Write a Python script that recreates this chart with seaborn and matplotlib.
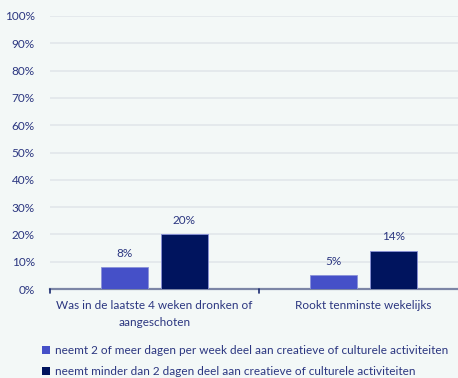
import matplotlib
matplotlib.use("Agg")
import matplotlib.pyplot as plt
from matplotlib.patches import Patch
import seaborn as sns
import pandas as pd

categories = ["Was in de laatste 4 weken dronken of\naangeschoten",
              "Rookt tenminste wekelijks"]
groups = ["neemt 2 of meer dagen per week deel aan creatieve of culturele activiteiten",
          "neemt minder dan 2 dagen deel aan creatieve of culturele activiteiten"]
values_often = [8, 5]
values_rarely = [20, 14]
y_ticks = [0, 10, 20, 30, 40, 50, 60, 70, 80, 90, 100]

bg = "#f3f8f7"
text_color = "#2b3680"
palette = ["#4550c8", "#00145e"]

df = pd.DataFrame({
    "categorie": categories * 2,
    "groep": [groups[0]] * 2 + [groups[1]] * 2,
    "waarde": values_often + values_rarely,
})

sns.set_theme(style="white")
plt.rcParams["font.family"] = ["Lato", "DejaVu Sans"]

fig = plt.figure(figsize=(4.58, 3.78), dpi=100, facecolor=bg)
ax = fig.add_axes([50 / 458, 1 - 289 / 378, 418 / 458, 273 / 378])
ax.set_facecolor(bg)

sns.barplot(data=df, x="categorie", y="waarde", hue="groep", hue_order=groups,
            palette=palette, width=0.57, gap=0.21, ax=ax, legend=False,
            edgecolor="#8a92d8", linewidth=0.6, saturation=1, zorder=3)

for container in ax.containers:
    ax.bar_label(container, labels=[f"{v:.0f}%" for v in container.datavalues],
                 padding=6, fontsize=8.5, color=text_color)

ax.set_ylim(0, 100)
ax.set_xlim(-0.5, 1.5)
ax.set_yticks(y_ticks)
ax.set_yticklabels([f"{t}%" for t in y_ticks], fontsize=8.5, color=text_color)
ax.set_xticks([0, 1])
ax.set_xticklabels([])
ax.set_xlabel("")
ax.set_ylabel("")
ax.yaxis.grid(True, color="#e1e7ea", linewidth=1.2, zorder=0)
ax.set_axisbelow(True)

# category names, every line centred under its group
xform = ax.get_xaxis_transform()
for i, name in enumerate(categories):
    for j, line in enumerate(name.split("\n")):
        ax.annotate(line, xy=(i, 0), xycoords=xform, xytext=(0, -8 - 12.4 * j),
                    textcoords="offset points", ha="center", va="top",
                    fontsize=8.5, color=text_color, annotation_clip=False)

for side in ["top", "right", "left"]:
    ax.spines[side].set_visible(False)
ax.spines["bottom"].set_color("#7c86a6")
ax.spines["bottom"].set_linewidth(1.6)
ax.tick_params(axis="y", length=0, pad=11)
ax.tick_params(axis="x", length=0)

# category separators on the bottom axis
for xb in [-0.5, 0.5]:
    ax.plot([xb, xb], [0, -1.3], color="#1a2a70", linewidth=1.2, clip_on=False, zorder=4)

handles = [Patch(facecolor=c, edgecolor="none") for c in palette]
fig.legend(handles, groups, loc="upper left", bbox_to_anchor=(42 / 458, 1 - 345 / 378),
           frameon=False, fontsize=8.5, handlelength=0.7, handleheight=0.7,
           handletextpad=0.4, labelspacing=0.85, labelcolor=text_color,
           borderaxespad=0, borderpad=0)

fig.savefig("out.png", dpi=100, facecolor=bg)
